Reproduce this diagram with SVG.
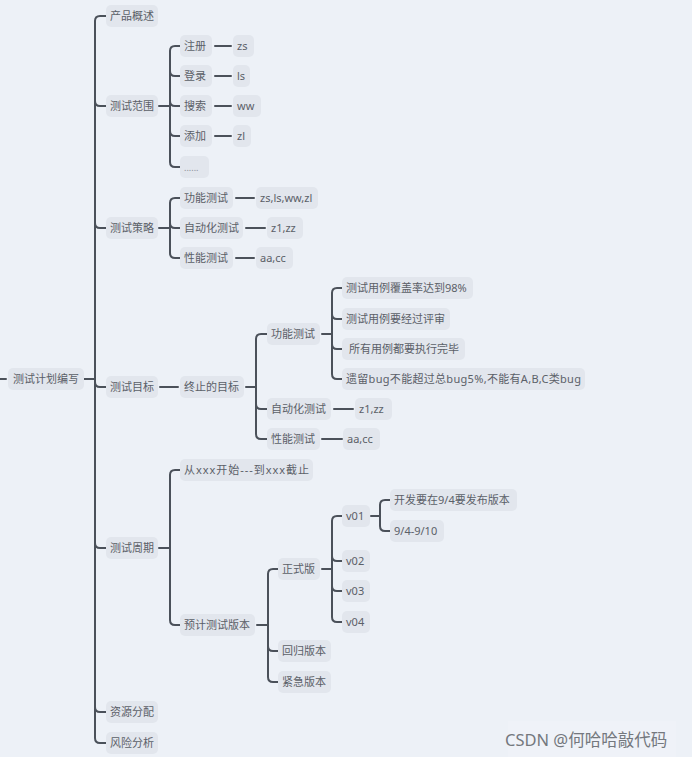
<svg xmlns="http://www.w3.org/2000/svg" width="692" height="757" viewBox="0 0 692 757">
<style>
.bg{fill:#edf1f7}
.box{fill:#e2e6ed}
.t{font-family:"Noto Sans","Noto Sans CJK SC",sans-serif;font-size:11px;fill:#5b6068}
.c{fill:none;stroke:#4b515a;stroke-width:2;stroke-linecap:round;stroke-linejoin:round}
.wm{font-family:"Noto Sans","Noto Sans CJK SC",sans-serif;font-size:16.5px;fill:#74787e}
</style>
<rect class="bg" x="0" y="0" width="692" height="757"/>
<rect x="508" y="721" width="168" height="36" fill="#eff2f8"/>
<g id="connectors">
<path class="c" d="M0,379 H6 M84,379 H95"/>
<path class="c" d="M106,16 H100 Q95,16 95,21 V738 Q95,743 100,743 H106 M95,101 Q95,106 100,106 H106 M95,223 Q95,228 100,228 H106 M95,382 Q95,387 100,387 H106 M95,543 Q95,548 100,548 H106 M95,707 Q95,712 100,712 H106"/>
<path class="c" d="M159,106 H170 M180,46 H175 Q170,46 170,51 V162 Q170,167 175,167 H180 M170,71 Q170,76 175,76 H180 M170,101 Q170,106 175,106 H180 M170,131 Q170,136 175,136 H180"/>
<path class="c" d="M215,46 H231 M215,76 H231 M215,106 H231 M215,136 H231"/>
<path class="c" d="M159,228 H170 M180,198 H175 Q170,198 170,203 V253 Q170,258 175,258 H180 M170,223 Q170,228 175,228 H180"/>
<path class="c" d="M236,198 H254 M246,228 H265 M236,258 H254"/>
<path class="c" d="M160,387 H178 M246,387 H256 M267,334 H261 Q256,334 256,339 V434 Q256,439 261,439 H267 M256,404 Q256,409 261,409 H267"/>
<path class="c" d="M322,334 H332 M342,288 H337 Q332,288 332,293 V374 Q332,379 337,379 H342 M332,314 Q332,319 337,319 H342 M332,344 Q332,349 337,349 H342"/>
<path class="c" d="M334,409 H353 M322,439 H342"/>
<path class="c" d="M159,548 H170 M180,470 H175 Q170,470 170,475 V620 Q170,625 175,625 H180"/>
<path class="c" d="M257,625 H268 M278,569 H273 Q268,569 268,574 V677 Q268,682 273,682 H278 M268,646 Q268,651 273,651 H278"/>
<path class="c" d="M322,569 H332 M342,516 H337 Q332,516 332,521 V617 Q332,622 337,622 H342 M332,556 Q332,561 337,561 H342 M332,586 Q332,591 337,591 H342"/>
<path class="c" d="M371,516 H380 M390,500 H385 Q380,500 380,505 V526 Q380,531 385,531 H390"/>
</g>
<g id="root"><rect class="box" x="8" y="368" width="76" height="22" rx="5"/><text class="t" x="13" y="383">测试计划编写</text></g>
<g id="n1"><rect class="box" x="106" y="5" width="52" height="22" rx="5"/><text class="t" x="110" y="20">产品概述</text></g>
<g id="n2"><rect class="box" x="106" y="95" width="52" height="22" rx="5"/><text class="t" x="110" y="110">测试范围</text></g>
<g id="n3"><rect class="box" x="106" y="217" width="52" height="22" rx="5"/><text class="t" x="110" y="232">测试策略</text></g>
<g id="n4"><rect class="box" x="106" y="376" width="52" height="22" rx="5"/><text class="t" x="110" y="391">测试目标</text></g>
<g id="n5"><rect class="box" x="106" y="537" width="52" height="22" rx="5"/><text class="t" x="110" y="552">测试周期</text></g>
<g id="n6"><rect class="box" x="106" y="701" width="52" height="22" rx="5"/><text class="t" x="110" y="716">资源分配</text></g>
<g id="n7"><rect class="box" x="106" y="732" width="52" height="22" rx="5"/><text class="t" x="110" y="747">风险分析</text></g>

<g id="n2a"><rect class="box" x="180" y="35" width="32" height="22" rx="5"/><text class="t" x="184" y="50">注册</text></g>
<g id="n2b"><rect class="box" x="180" y="65" width="32" height="22" rx="5"/><text class="t" x="184" y="80">登录</text></g>
<g id="n2c"><rect class="box" x="180" y="95" width="32" height="22" rx="5"/><text class="t" x="184" y="110">搜索</text></g>
<g id="n2d"><rect class="box" x="180" y="125" width="32" height="22" rx="5"/><text class="t" x="184" y="140">添加</text></g>
<g id="n2e"><rect class="box" x="180" y="156" width="29" height="22" rx="5"/><text class="t" x="184" y="171" style="font-size:9px;fill:#8a8f96">......</text></g>
<g id="n2a1"><rect class="box" x="233" y="35" width="21" height="22" rx="5"/><text class="t" x="237" y="50">zs</text></g>
<g id="n2b1"><rect class="box" x="233" y="65" width="17" height="22" rx="5"/><text class="t" x="237" y="80">ls</text></g>
<g id="n2c1"><rect class="box" x="233" y="95" width="28" height="22" rx="5"/><text class="t" x="237" y="110">ww</text></g>
<g id="n2d1"><rect class="box" x="233" y="125" width="18" height="22" rx="5"/><text class="t" x="237" y="140">zl</text></g>

<g id="n3a"><rect class="box" x="180" y="187" width="53" height="22" rx="5"/><text class="t" x="184" y="202">功能测试</text></g>
<g id="n3b"><rect class="box" x="180" y="217" width="63" height="22" rx="5"/><text class="t" x="184" y="232">自动化测试</text></g>
<g id="n3c"><rect class="box" x="180" y="247" width="53" height="22" rx="5"/><text class="t" x="184" y="262">性能测试</text></g>
<g id="n3a1"><rect class="box" x="256" y="187" width="62" height="22" rx="5"/><text class="t" x="260" y="202">zs,ls,ww,zl</text></g>
<g id="n3b1"><rect class="box" x="267" y="217" width="36" height="22" rx="5"/><text class="t" x="271" y="232">z1,zz</text></g>
<g id="n3c1"><rect class="box" x="256" y="247" width="37" height="22" rx="5"/><text class="t" x="260" y="262">aa,cc</text></g>

<g id="n4a"><rect class="box" x="180" y="376" width="64" height="22" rx="5"/><text class="t" x="184" y="391">终止的目标</text></g>
<g id="n4b"><rect class="box" x="267" y="323" width="53" height="22" rx="5"/><text class="t" x="271" y="338">功能测试</text></g>
<g id="n4c"><rect class="box" x="267" y="398" width="64" height="22" rx="5"/><text class="t" x="271" y="413">自动化测试</text></g>
<g id="n4d"><rect class="box" x="267" y="428" width="53" height="22" rx="5"/><text class="t" x="271" y="443">性能测试</text></g>
<g id="n4b1"><rect class="box" x="342" y="277" width="131" height="22" rx="5"/><text class="t" x="346" y="292">测试用例覆盖率达到98%</text></g>
<g id="n4b2"><rect class="box" x="342" y="308" width="108" height="22" rx="5"/><text class="t" x="346" y="323">测试用例要经过评审</text></g>
<g id="n4b3"><rect class="box" x="342" y="338" width="123" height="22" rx="5"/><text class="t" x="349" y="353">所有用例都要执行完毕</text></g>
<g id="n4b4"><rect class="box" x="342" y="368" width="243" height="22" rx="5"/><text class="t" x="346" y="383" textLength="235" lengthAdjust="spacing">遗留bug不能超过总bug5%,不能有A,B,C类bug</text></g>
<g id="n4c1"><rect class="box" x="355" y="398" width="37" height="22" rx="5"/><text class="t" x="359" y="413">z1,zz</text></g>
<g id="n4d1"><rect class="box" x="343" y="428" width="37" height="22" rx="5"/><text class="t" x="347" y="443">aa,cc</text></g>

<g id="n5a"><rect class="box" x="180" y="459" width="133" height="22" rx="5"/><text class="t" x="184" y="474" textLength="125" lengthAdjust="spacing">从xxx开始---到xxx截止</text></g>
<g id="n5b"><rect class="box" x="180" y="614" width="75" height="22" rx="5"/><text class="t" x="184" y="629">预计测试版本</text></g>
<g id="n5b1"><rect class="box" x="278" y="558" width="42" height="22" rx="5"/><text class="t" x="282" y="573">正式版</text></g>
<g id="n5b2"><rect class="box" x="278" y="640" width="53" height="22" rx="5"/><text class="t" x="282" y="655">回归版本</text></g>
<g id="n5b3"><rect class="box" x="278" y="671" width="53" height="22" rx="5"/><text class="t" x="282" y="686">紧急版本</text></g>
<g id="v01"><rect class="box" x="342" y="505" width="28" height="22" rx="5"/><text class="t" x="346" y="520">v01</text></g>
<g id="v02"><rect class="box" x="342" y="550" width="28" height="22" rx="5"/><text class="t" x="346" y="565">v02</text></g>
<g id="v03"><rect class="box" x="342" y="580" width="28" height="22" rx="5"/><text class="t" x="346" y="595">v03</text></g>
<g id="v04"><rect class="box" x="342" y="611" width="28" height="22" rx="5"/><text class="t" x="346" y="626">v04</text></g>
<g id="v01a"><rect class="box" x="390" y="489" width="127" height="22" rx="5"/><text class="t" x="394" y="504">开发要在9/4要发布版本</text></g>
<g id="v01b"><rect class="box" x="390" y="520" width="54" height="22" rx="5"/><text class="t" x="394" y="535">9/4-9/10</text></g>

<text class="wm" x="505" y="746">CSDN @何哈哈敲代码</text>
</svg>
